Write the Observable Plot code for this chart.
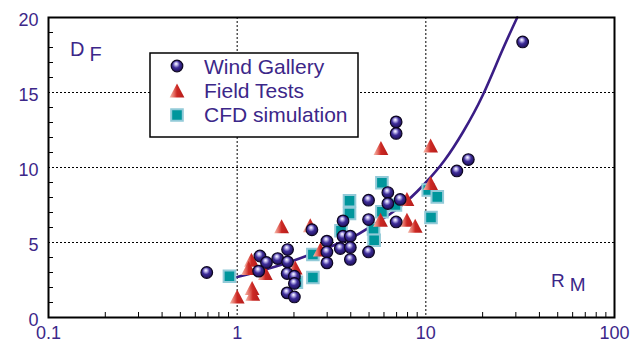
<!DOCTYPE html>
<html><head><meta charset="utf-8">
<script src="https://cdn.jsdelivr.net/npm/d3@7"></script>
<script src="https://cdn.jsdelivr.net/npm/@observablehq/plot@0.6"></script>
<style>body{margin:0;background:#fff}#chart{width:642px;height:344px}</style>
</head><body><div id="chart"></div>
<script>
// Wind Gallery
const windR = [0.69,1.32,1.43,1.30,1.64,1.85,1.85,1.84,2.01,2.01,1.84,2.01,2.49,2.99,2.99,2.99,3.64,3.64,3.52,3.98,3.98,3.98,4.97,4.97,4.97,6.29,6.29,7.31,6.96,6.96,6.96,16.8,14.6,32.6];
const windD = [3.0,4.1,3.67,3.09,3.93,4.53,3.71,2.93,2.75,2.27,1.64,1.37,5.85,5.09,4.37,3.64,6.44,5.42,4.6,5.42,4.67,3.87,7.82,6.53,4.37,8.33,7.6,7.87,6.37,13.04,12.27,10.53,9.77,18.37];
// Field Tests
const fieldR = [1.0,1.19,1.15,1.41,1.2,1.21,1.72,2.44,2.03,2.76,5.75,7.94,7.94,8.78,10.6,5.78,10.6];
const fieldD = [1.37,3.82,3.27,2.93,1.93,1.55,6.05,6.12,3.3,4.5,6.49,7.87,6.49,6.09,8.93,11.27,11.44];
// CFD simulation
const cfdR = [0.91,2.52,2.52,2.06,3.94,3.94,3.55,5.85,5.85,5.28,5.32,6.9,10.3,11.5,10.65];
const cfdD = [2.75,4.2,2.67,2.35,7.78,6.93,5.78,8.98,7.05,5.9,5.15,7.5,8.5,8.04,6.67];
// fitted curve
const curveR = [1,1.6,2.5,4,5,6.3,8,10,12.6,15.8,20,25,30.5];
const curveD = [2.7,3.4,4.25,5.3,6.0,6.8,7.8,9.0,10.5,12.4,14.8,17.6,20];
// axes
const xTicks = [0.1,1,10,100];
const yTicks = [0,5,10,15,20];
const xGrid = [1,10];
const yGrid = [5,10,15];
const xMinor = [0.2,0.3,0.4,0.5,0.6,0.7,0.8,0.9,2,3,4,5,6,7,8,9,20,30,40,50,60,70,80,90];
const yMinor = [1,2,3,4,6,7,8,9,11,12,13,14,16,17,18,19];
const seriesNames = ["Wind Gallery","Field Tests","CFD simulation"];

const zip = (a,b) => a.map((v,i) => ({x:v, y:b[i]}));
const wind = zip(windR, windD), field = zip(fieldR, fieldD), cfd = zip(cfdR, cfdD), curve = zip(curveR, curveD);

const purple = "#3c2789";
const FONT = "Liberation Sans, Arial, sans-serif";
const triSym = {draw(c){ c.moveTo(0,-7.5); c.lineTo(7.4,6.5); c.lineTo(-7.4,6.5); c.closePath(); }};
const sqSym = {draw(c){ c.rect(-5.8,-5.8,11.6,11.6); }};

const W = 642, H = 344, mL = 48, mR = 28, mT = 17, mB = 27;
const innerH = H - mT - mB, innerW = W - mL - mR;

const svg = Plot.plot({
  width: W, height: H,
  marginLeft: mL, marginRight: mR, marginTop: mT, marginBottom: mB,
  style: {fontFamily: FONT, background: "white"},
  x: {type: "log", domain: [0.1, 100]},
  y: {domain: [0, 20]},
  marks: [
    Plot.ruleX(xGrid, {stroke: "black", strokeWidth: 1, strokeDasharray: "2,2"}),
    Plot.ruleY(yGrid, {stroke: "black", strokeWidth: 1, strokeDasharray: "2,2"}),
    Plot.tickX(xMinor, {stroke: "black", strokeWidth: 1, insetTop: innerH - 5}),
    Plot.tickY(yMinor, {stroke: "black", strokeWidth: 1, insetRight: innerW - 5}),
    Plot.line(curve, {x: "x", y: "y", stroke: "#3a1d85", strokeWidth: 2.6, curve: "natural"}),
    Plot.dot(cfd, {x: "x", y: "y", symbol: sqSym, fill: "#00969c", stroke: "#92cad8", strokeWidth: 2}),
    Plot.dot(field, {x: "x", y: "y", symbol: triSym, fill: "url(#triG)", stroke: "none"}),
    Plot.dot(wind, {x: "x", y: "y", r: 5.8, fill: "url(#sph)", stroke: "#0d0620", strokeWidth: 1.2}),
    Plot.frame({stroke: "black", strokeWidth: 2}),
    Plot.axisX({ticks: xTicks, tickFormat: d => String(d), tickSize: 0, tickPadding: 9, fontSize: 18, color: purple, label: null}),
    Plot.axisY({ticks: yTicks, tickSize: 0, tickPadding: 10, fontSize: 18, color: purple, label: null, dy: 3})
  ]
});

const s = d3.select(svg);
s.insert("defs", ":first-child").html(`
<radialGradient id="sph" cx="0.45" cy="0.42" r="0.62" fx="0.42" fy="0.3">
  <stop offset="0" stop-color="#ffffff"/>
  <stop offset="0.18" stop-color="#c4bdf0"/>
  <stop offset="0.5" stop-color="#3d2c98"/>
  <stop offset="1" stop-color="#1a0c52"/>
</radialGradient>
<linearGradient id="triG" x1="0" y1="0" x2="1" y2="0">
  <stop offset="0" stop-color="#f6bfb0"/>
  <stop offset="0.3" stop-color="#e46c62"/>
  <stop offset="0.5" stop-color="#cc2924"/>
  <stop offset="1" stop-color="#b51c1a"/>
</linearGradient>`);

// axis-name labels
const df = s.append("text").attr("x", 70).attr("y", 56).attr("fill", purple)
  .attr("text-anchor", "start").style("font-family", FONT).style("font-size", "20px");
df.append("tspan").text("D");
df.append("tspan").attr("dx", 5).attr("dy", 5).text("F");
const rm = s.append("text").attr("x", 551).attr("y", 287).attr("fill", purple)
  .attr("text-anchor", "start").style("font-family", FONT).style("font-size", "19px");
rm.append("tspan").text("R");
rm.append("tspan").attr("dx", 5).attr("dy", 4).text("M");

// legend
const lg = s.append("g").attr("text-anchor", "start").style("font-family", FONT);
lg.append("rect").attr("x", 150).attr("y", 53).attr("width", 208).attr("height", 84)
  .attr("fill", "white").attr("stroke", "black").attr("stroke-width", 1.5);
lg.append("circle").attr("cx", 177).attr("cy", 66).attr("r", 5.8)
  .attr("fill", "url(#sph)").attr("stroke", "#0d0620").attr("stroke-width", 1.2);
lg.append("path").attr("transform", "translate(177,91)").attr("d", d3.symbol(triSym)())
  .attr("fill", "url(#triG)");
lg.append("path").attr("transform", "translate(177,115)").attr("d", d3.symbol(sqSym)())
  .attr("fill", "#00969c").attr("stroke", "#92cad8").attr("stroke-width", 2);
[74, 98, 122].forEach((y, i) => {
  lg.append("text").attr("x", 204).attr("y", y).attr("fill", purple)
    .attr("text-anchor", "start").style("font-size", "21px").text(seriesNames[i]);
});

document.getElementById("chart").appendChild(svg);
</script>
</body></html>
